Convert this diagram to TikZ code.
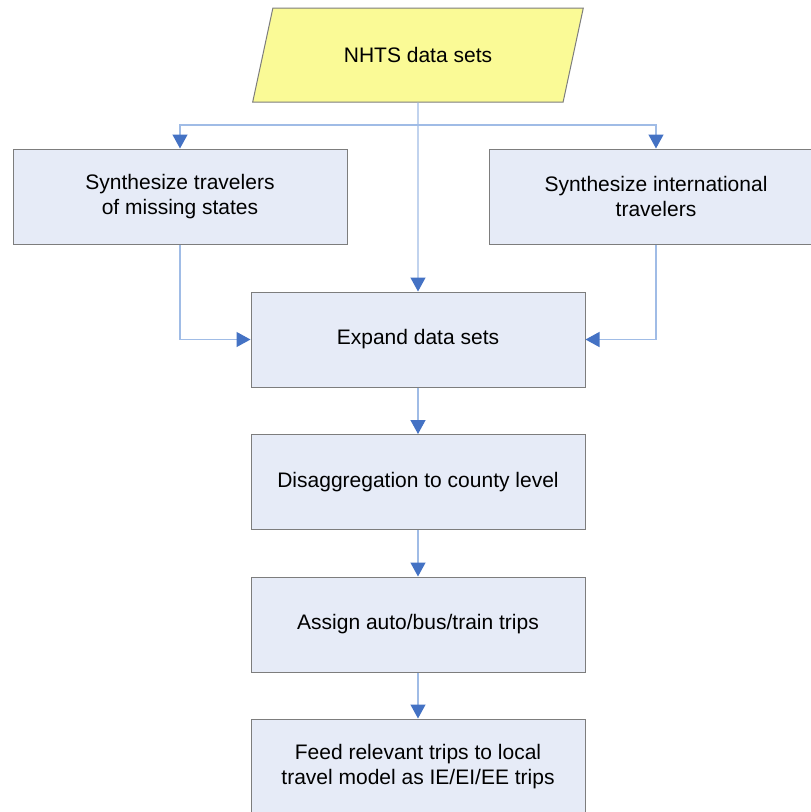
\documentclass[tikz,border=0pt]{standalone}
\usepackage{fontspec}
\setmainfont{Liberation Sans}
\usetikzlibrary{shapes.geometric, arrows.meta}
\definecolor{boxfill}{RGB}{230,235,247}
\definecolor{boxline}{RGB}{125,125,125}
\definecolor{datafill}{RGB}{250,250,150}
\definecolor{flowline}{RGB}{160,188,230}
\definecolor{flowtip}{RGB}{68,114,196}
\tikzset{
  procbox/.style={draw=boxline, fill=boxfill, line width=1pt, minimum width=334pt, minimum height=95pt, align=center, font=\fontsize{21}{25.5}\selectfont},
  databox/.style={trapezium, trapezium left angle=64, trapezium right angle=116, trapezium stretches=true, draw=boxline, fill=datafill, line width=1pt, minimum width=331pt, minimum height=94pt, font=\fontsize{21}{25.5}\selectfont},
  flow/.style={draw=flowline, line width=1.3pt, -{Triangle[length=14pt, width=15pt, fill=flowtip, color=flowtip]}}
}
\begin{document}
\begin{tikzpicture}[x=1pt, y=-1pt]
\useasboundingbox (0,0) rectangle (811,812);
\clip (0,0) rectangle (811,812);
\fill[white] (0,0) rectangle (811,812);
% input and the two synthesis steps
\node[databox] (nhts) at (418,55) {NHTS data sets};
\node[procbox] (missing) at (180,196.5) {Synthesize travelers\\of missing states};
\node[procbox] (intl) at (656,196.5) {Synthesize international\\travelers};
% main chain
\node[procbox] (expand) at (418,339.5) {Expand data sets};
\node[procbox] (disagg) at (418,482) {Disaggregation to county level};
\node[procbox] (assign) at (418,624.5) {Assign auto/bus/train trips};
\node[procbox] (feed) at (418,766.5) {Feed relevant trips to local\\travel model as IE/EI/EE trips};
\coordinate (split) at (418,125);
% connectors
\draw[flow] (nhts) -- (expand);
\draw[flow] (split) -| (missing);
\draw[flow] (split) -| (intl);
\draw[flow] (missing) |- (expand);
\draw[flow] (intl) |- (expand);
\draw[flow] (expand) -- (disagg);
\draw[flow] (disagg) -- (assign);
\draw[flow] (assign) -- (feed);
\end{tikzpicture}
\end{document}
